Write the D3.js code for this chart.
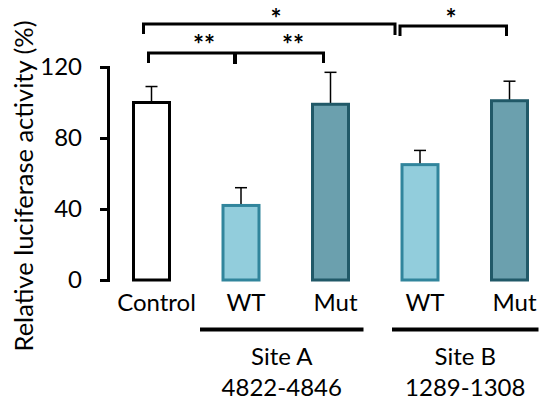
<!DOCTYPE html>
<html>
  <head>
    <meta charset="utf-8">
    <title>Luciferase</title>
    <script type="text/javascript" src="https://cdn.jsdelivr.net/npm/d3@7"></script>
    <style type="text/css">
      body { margin: 0; background: #fff; }
      text { font-family: Lato, "Open Sans", sans-serif; fill: #000; }
    </style>
  </head>
  <body>
  <script type="text/javascript">

  var keys = ['Control', 'A-WT', 'A-Mut', 'B-WT', 'B-Mut']
  var labels = ['Control', 'WT', 'Mut', 'WT', 'Mut']
  var kinds = ['control', 'wt', 'mut', 'wt', 'mut']
  var means = [100, 42, 99, 65, 101]
  var errors = [9, 10, 18, 8, 11]
  var yTicks = [0, 40, 80, 120]
  var siteNames = ['Site A', 'Site B']
  var siteRanges = ['4822-4846', '1289-1308']
  var siteMembers = [['A-WT', 'A-Mut'], ['B-WT', 'B-Mut']]

  var fills = { control: '#ffffff', wt: '#92cddc', mut: '#6ba0ae' }
  var strokes = { control: '#000000', wt: '#31859c', mut: '#215968' }

  var W = 543, H = 401
  var svg = d3.select('body')
    .append('svg')
      .attr('width', W)
      .attr('height', H)

  var x = d3.scalePoint().domain(keys).range([151.5, 509.5])
  var y = d3.scaleLinear().domain([0, 120]).range([280, 67])
  var bw = 36

  // y axis
  var yAxis = svg.append('g')
      .attr('transform', 'translate(108,0)')
      .call(d3.axisLeft(y).tickValues(yTicks).tickSize(8).tickSizeOuter(8).tickPadding(18))
  yAxis.selectAll('path, line').attr('stroke', '#000').attr('stroke-width', 3)
  yAxis.select('path').attr('stroke-linejoin', 'miter')
  yAxis.selectAll('text').style('font-size', '24px').style('font-family', 'Lato, sans-serif').attr('fill', '#000')

  svg.append('text')
      .attr('transform', 'translate(33,186) rotate(-90)')
      .attr('text-anchor', 'middle')
      .style('font-size', '25.5px')
      .text('Relative luciferase activity (%)')

  // error bars
  var bars = keys.map(function(k, i) { return { key: k, kind: kinds[i], mean: means[i], err: errors[i] } })

  svg.selectAll('line.err').data(bars)
    .enter().append('line')
      .attr('class', 'err')
      .attr('x1', function(d) { return x(d.key) }).attr('x2', function(d) { return x(d.key) })
      .attr('y1', function(d) { return y(d.mean) }).attr('y2', function(d) { return y(d.mean + d.err) })
      .attr('stroke', '#000').attr('stroke-width', 1.5)
  svg.selectAll('line.cap').data(bars)
    .enter().append('line')
      .attr('class', 'cap')
      .attr('x1', function(d) { return x(d.key) - 6 }).attr('x2', function(d) { return x(d.key) + 6 })
      .attr('y1', function(d) { return y(d.mean + d.err) }).attr('y2', function(d) { return y(d.mean + d.err) })
      .attr('stroke', '#000').attr('stroke-width', 1.5)

  svg.selectAll('rect').data(bars)
    .enter().append('rect')
      .attr('x', function(d) { return x(d.key) - bw / 2 })
      .attr('y', function(d) { return y(d.mean) })
      .attr('width', bw)
      .attr('height', function(d) { return y(0) - y(d.mean) })
      .attr('fill', function(d) { return fills[d.kind] })
      .attr('stroke', function(d) { return strokes[d.kind] })
      .attr('stroke-width', 3)

  // category labels
  svg.selectAll('text.cat').data(bars)
    .enter().append('text')
      .attr('class', 'cat')
      .attr('x', function(d) { return x(d.key) + 5 })
      .attr('y', 311)
      .attr('text-anchor', 'middle')
      .style('font-size', '24px')
      .text(function(d, i) { return labels[i] })

  // site underlines + labels
  var siteLeft = [-41, -28], siteRight = [33, 29]
  siteNames.forEach(function(name, i) {
    var a = x(siteMembers[i][0]) + siteLeft[i]
    var b = x(siteMembers[i][1]) + siteRight[i]
    var c = (a + b) / 2
    svg.append('line')
        .attr('x1', a).attr('x2', b).attr('y1', 329.5).attr('y2', 329.5)
        .attr('stroke', '#000').attr('stroke-width', 4)
    svg.append('text')
        .attr('x', c).attr('y', 365).attr('text-anchor', 'middle')
        .style('font-size', '24px').text(name)
    svg.append('text')
        .attr('x', c).attr('y', 396).attr('text-anchor', 'middle')
        .style('font-size', '24px').text(siteRanges[i])
  })

  // significance brackets
  function bracket(x1, x2, yy, d1, d2) {
    svg.append('path')
        .attr('d', 'M' + x1 + ',' + (yy + d1) + 'V' + yy + 'H' + x2 + 'V' + (yy + d2))
        .attr('fill', 'none').attr('stroke', '#000').attr('stroke-width', 3)
  }
  function star(xx, yy, s) {
    svg.append('text')
        .attr('x', xx).attr('y', yy).attr('text-anchor', 'middle')
        .style('font-size', '26px').style('font-weight', 'bold').text(s)
  }

  bracket(x('Control') - 8, x('B-WT') - 25, 24, 10, 11)
  star(276, 28, '*')
  bracket(x('Control') - 3, x('A-Mut') - 7, 53, 10, 10)
  svg.append('line')
      .attr('x1', x('A-WT') - 6).attr('x2', x('A-WT') - 6)
      .attr('y1', 53).attr('y2', 64)
      .attr('stroke', '#000').attr('stroke-width', 4)
  star(204, 54, '**')
  star(293, 54, '**')
  bracket(x('B-WT') - 20, x('B-Mut') - 3, 26, 10, 10)
  star(451, 28, '*')

  </script>
  </body>
</html>
